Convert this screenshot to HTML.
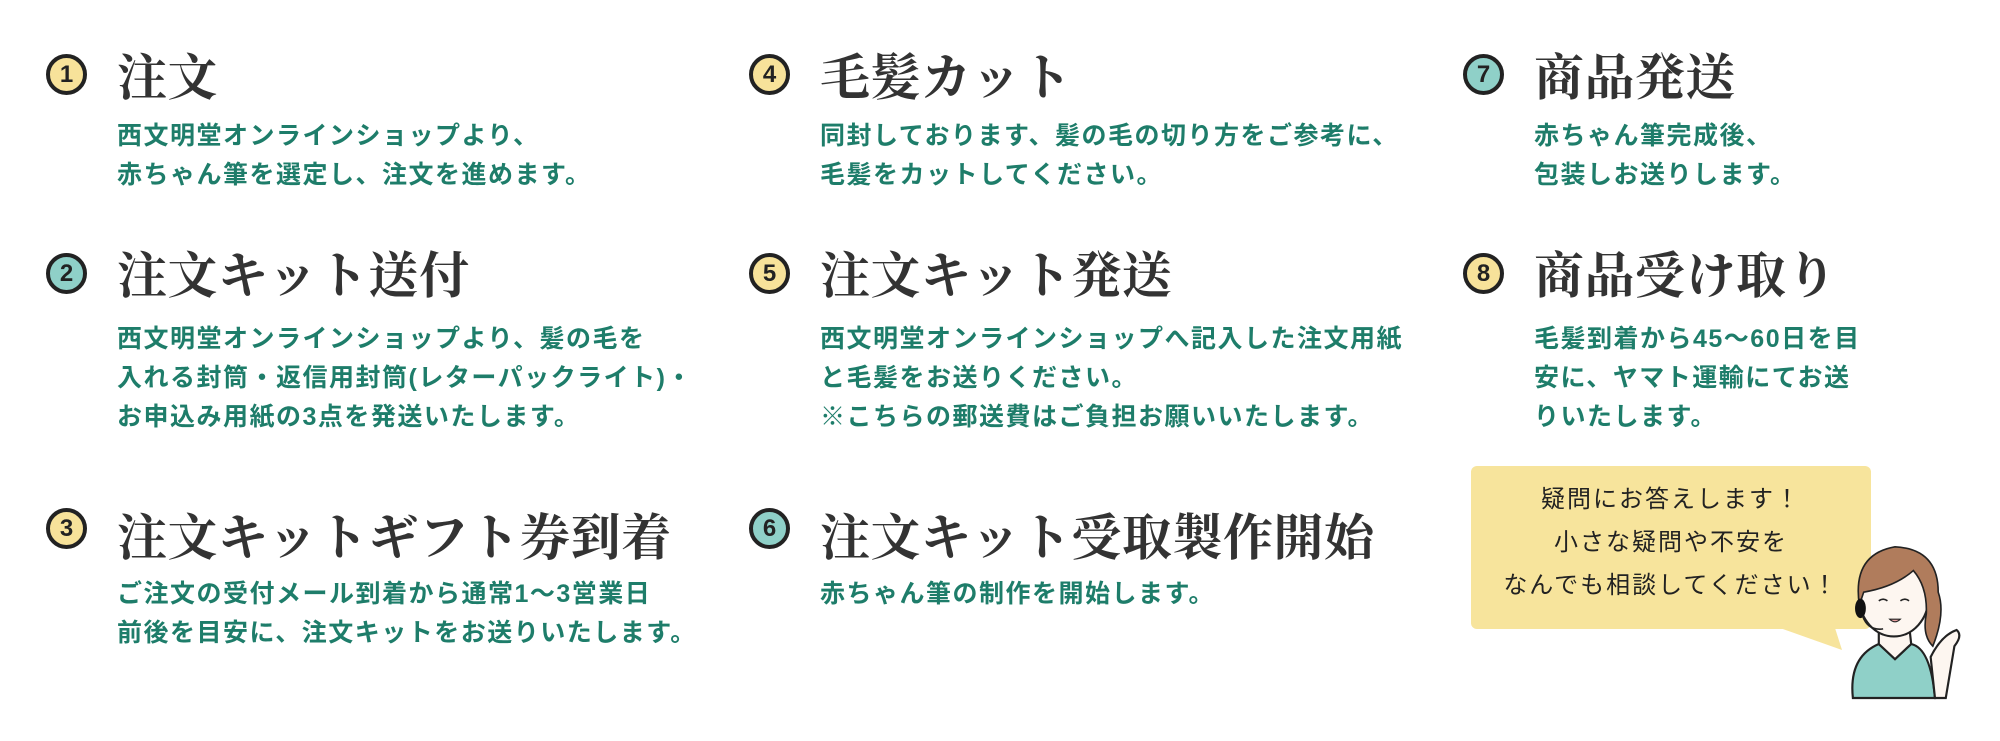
<!DOCTYPE html>
<html><head><meta charset="utf-8">
<style>
body{margin:0;width:2000px;height:741px;background:#fff;position:relative;overflow:hidden;}
.c{position:absolute;width:41px;height:41px;border:4px solid #222;border-radius:50%;box-sizing:border-box;font:bold 24px "Liberation Sans",sans-serif;color:#222;text-align:center;line-height:33px;}
.y{background:#f7e29a}.t{background:#8fd0c8}
.h{position:absolute;font-family:"Noto Serif CJK SC",serif;font-weight:bold;font-size:50px;letter-spacing:0.5px;color:#333;white-space:nowrap;line-height:60px;}
.b{position:absolute;font-family:"Liberation Sans","Noto Sans CJK JP",sans-serif;font-weight:bold;font-size:25px;letter-spacing:1.5px;color:#1e7d6a;white-space:nowrap;line-height:39px;}
.bub{position:absolute;left:1471px;top:466px;width:400px;height:163px;background:#f7e49c;border-radius:6px;}
.bt{position:absolute;left:1471px;top:478px;width:400px;text-align:center;font-family:"Liberation Sans","Noto Sans CJK JP",sans-serif;font-size:24px;letter-spacing:2px;color:#222;line-height:43px;}
</style></head><body>
<div class="c y" style="left:46px;top:54px">1</div>
<div class="h" style="left:117px;top:44px">注文</div>
<div class="b" style="left:117px;top:117px">西文明堂オンラインショップより、<br>赤ちゃん筆を選定し、注文を進めます。</div>

<div class="c t" style="left:46px;top:253px">2</div>
<div class="h" style="left:117px;top:242px">注文キット送付</div>
<div class="b" style="left:117px;top:320px">西文明堂オンラインショップより、髪の毛を<br>入れる封筒・返信用封筒(レターパックライト)・<br>お申込み用紙の3点を発送いたします。</div>

<div class="c y" style="left:46px;top:508px">3</div>
<div class="h" style="left:117px;top:504px">注文キットギフト券到着</div>
<div class="b" style="left:117px;top:575px">ご注文の受付メール到着から通常1〜3営業日<br>前後を目安に、注文キットをお送りいたします。</div>

<div class="c y" style="left:749px;top:54px">4</div>
<div class="h" style="left:820px;top:44px">毛髪カット</div>
<div class="b" style="left:820px;top:117px">同封しております、髪の毛の切り方をご参考に、<br>毛髪をカットしてください。</div>

<div class="c y" style="left:749px;top:253px">5</div>
<div class="h" style="left:820px;top:242px">注文キット発送</div>
<div class="b" style="left:820px;top:320px">西文明堂オンラインショップへ記入した注文用紙<br>と毛髪をお送りください。<br>※こちらの郵送費はご負担お願いいたします。</div>

<div class="c t" style="left:749px;top:508px">6</div>
<div class="h" style="left:820px;top:504px">注文キット受取製作開始</div>
<div class="b" style="left:820px;top:575px">赤ちゃん筆の制作を開始します。</div>

<div class="c t" style="left:1463px;top:54px">7</div>
<div class="h" style="left:1534px;top:44px">商品発送</div>
<div class="b" style="left:1534px;top:117px">赤ちゃん筆完成後、<br>包装しお送りします。</div>

<div class="c y" style="left:1463px;top:253px">8</div>
<div class="h" style="left:1534px;top:242px">商品受け取り</div>
<div class="b" style="left:1534px;top:320px">毛髪到着から45〜60日を目<br>安に、ヤマト運輸にてお送<br>りいたします。</div>

<div class="bub"></div>
<svg style="position:absolute;left:0;top:0" width="2000" height="741">
<polygon points="1780,628 1835,628 1842,650" fill="#f7e49c"/>
<g transform="translate(1895,698) scale(1.08) translate(-1895,-698)">
<path d="M1856,698 Q1852,660 1880,648 L1895,662 L1910,648 Q1928,652 1932,698 Z" fill="#8fd0c8" stroke="#222" stroke-width="2"/>
<path d="M1880,630 L1880,648 L1895,662 L1910,648 L1908,630 Z" fill="#fdf6f0" stroke="#222" stroke-width="2"/>
<path d="M1932,698 L1928,660 Q1938,640 1952,635 Q1958,640 1950,650 L1942,698 Z" fill="#fdf6f0" stroke="#222" stroke-width="2"/>
<ellipse cx="1894" cy="605" rx="32" ry="36" fill="#fdf6f0" stroke="#222" stroke-width="2"/>
<path d="M1862,612 Q1855,565 1895,558 Q1935,560 1935,600 Q1942,620 1930,650 Q1920,640 1924,620 Q1925,595 1912,580 Q1895,595 1866,600 Z" fill="#b07c5c" stroke="#222" stroke-width="1.5"/>
<ellipse cx="1863" cy="615" rx="5" ry="9" fill="#111"/>
<path d="M1865,622 Q1870,636 1884,634" stroke="#222" stroke-width="1.5" fill="none"/>
<path d="M1880,608 q4,-3 8,0 M1900,608 q4,-3 8,0" stroke="#222" stroke-width="1.5" fill="none"/>
<path d="M1890,625 q5,5 10,0 z" fill="#e9a0a0" stroke="#222" stroke-width="1"/>
</g>
</svg>
<div class="bt">疑問にお答えします！<br>小さな疑問や不安を<br>なんでも相談してください！</div>
</body></html>
